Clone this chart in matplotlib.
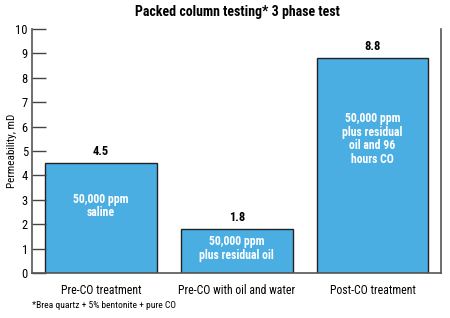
import matplotlib
matplotlib.use("Agg")
import matplotlib.pyplot as plt

plt.rcParams["font.family"] = ["Roboto Condensed", "Open Sans Condensed", "DejaVu Sans"]

categories = ["Pre-CO treatment", "Pre-CO with oil and water", "Post-CO treatment"]
values = [4.5, 1.8, 8.8]
inner_labels = ["50,000 ppm\nsaline", "50,000 ppm\nplus residual oil",
                "50,000 ppm\nplus residual\noil and 96\nhours CO"]
yticks = list(range(0, 11))

fig = plt.figure(figsize=(4.5, 3.18), dpi=100)
ax = fig.add_axes([32 / 450, 1 - 273 / 318, 409 / 450, 244 / 318])

x = list(range(len(categories)))
ax.bar(x, values, width=0.825, color="#4AAEE3", edgecolor="#222222", linewidth=1.0)

for xi, v in zip(x, values):
    ax.text(xi, v + 0.2, f"{v}", ha="center", va="bottom", fontsize=9, fontweight="bold")

# text inside the bars
ax.text(0, 2.75, inner_labels[0], ha="center", va="center", color="white",
        fontsize=8.5, fontweight="bold", linespacing=1.05)
ax.text(1, 1.0, inner_labels[1], ha="center", va="center", color="white",
        fontsize=8.5, fontweight="bold", linespacing=1.05)
ax.text(2, 5.5, inner_labels[2], ha="center", va="center", color="white",
        fontsize=8.5, fontweight="bold", linespacing=1.05)

ax.set_xlim(-0.51, 2.505)
ax.set_ylim(0, 10)
ax.set_yticks(yticks)
ax.set_xticks(x)
ax.set_xticklabels(categories, fontsize=8.5)
ax.tick_params(axis="y", direction="in", length=10, width=1, labelsize=9, pad=3, color="#444444")
ax.tick_params(axis="x", length=0, pad=8)
for s in ax.spines.values():
    s.set_color("#555555")
    s.set_linewidth(1.2)
ax.spines["top"].set_visible(False)

ax.set_ylabel("Permeability, mD", fontsize=8)
ax.yaxis.set_label_coords(-0.036, 0.5)

fig.text(237 / 450, 1 - 12 / 318, "Packed column testing* 3 phase test",
         ha="center", va="center", fontsize=10, fontweight="bold")
fig.text(32 / 450, 1 - 306 / 318, "*Brea quartz + 5% bentonite + pure CO",
         ha="left", va="center", fontsize=6.8)

fig.savefig("out.png", dpi=100)
